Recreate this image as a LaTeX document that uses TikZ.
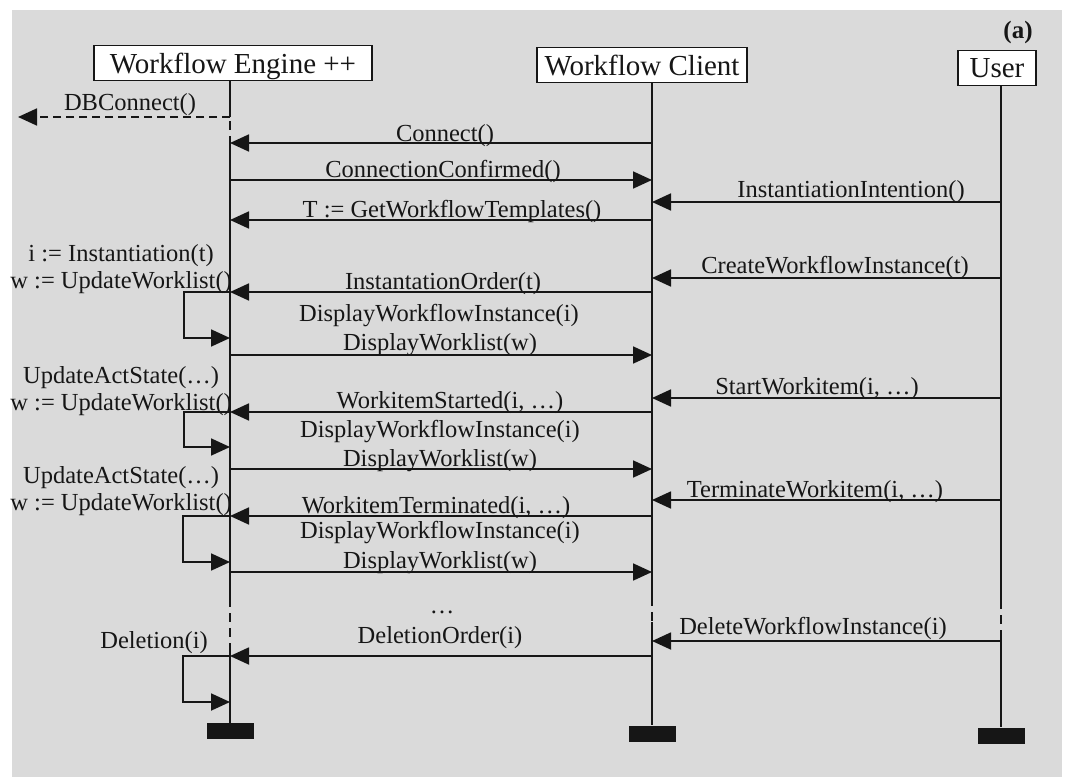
\documentclass[tikz,border=0pt]{standalone}
\usepackage{fontspec}
\setmainfont{Liberation Serif}
\usetikzlibrary{arrows.meta}
\definecolor{panel}{RGB}{218,218,218}
\definecolor{ink}{RGB}{22,22,22}

\begin{document}
\begin{tikzpicture}[x=1pt,y=-1pt,
  every node/.style={inner sep=0pt, text=ink},
  actor/.style={draw=ink, fill=white, line width=1.6pt, minimum height=35pt,
    text depth=0pt, font=\fontsize{29}{31}\selectfont},
  msglbl/.style={anchor=base, font=\fontsize{24.5}{27}\selectfont},
  sidelbl/.style={anchor=base east, align=center, font=\fontsize{24.5}{26.5}\selectfont},
  life/.style={draw=ink, line width=1.8pt},
  gap/.style={life, dash pattern=on 9pt off 6pt},
  msg/.style={draw=ink, line width=1.8pt, -{Triangle[length=19pt,width=17pt]}},
  asyncmsg/.style={msg, dash pattern=on 8pt off 5pt},
  stopbar/.style={fill=ink, minimum width=47pt, minimum height=16pt},
]
\useasboundingbox (0,0) rectangle (1065,779);
\fill[white] (0,0) rectangle (1065,779);
\fill[panel] (12,10) rectangle (1062,777);

% participants
\node[actor, minimum width=278pt] (eng) at (233,63) {Workflow Engine ++};
\node[actor, minimum width=210pt] (cli) at (642,65) {Workflow Client};
\node[actor, minimum width=78pt]  (usr) at (997,68) {User};
\node[anchor=base, font=\fontsize{25}{27}\selectfont\bfseries] (tag) at (1018,38) {(a)};

% end-of-life bars
\node[stopbar] (engEnd) at (230,731) {};
\node[stopbar] (cliEnd) at (652,733.5) {};
\node[stopbar] (usrEnd) at (1001,735.5) {};

% lifeline anchor points
\coordinate (eTop) at (230,80);
\coordinate (cTop) at (652,82.5);
\coordinate (uTop) at (1001,85.5);

% engine lifeline
\coordinate (eA) at (230,117);
\coordinate (eB) at (230,121);
\coordinate (eC) at (230,140);
\coordinate (eD) at (230,598);
\coordinate (eE) at (230,650);
\draw[life] (eTop) -- (eA);
\draw[gap] (eB) -- (eC);
\draw[life] (eC) -- (eD);
\draw[gap] (eD) -- (eE);
\draw[life] (eE) -- (engEnd.north);

% client lifeline
\coordinate (cD) at (652,597);
\coordinate (cE) at (652,622);
\draw[life] (cTop) -- (cD);
\draw[gap] (cD) -- (cE);
\draw[life] (cE) -- (cliEnd.north);

% user lifeline
\coordinate (uD) at (1001,600);
\coordinate (uE) at (1001,637);
\draw[life] (uTop) -- (uD);
\draw[gap] (uD) -- (uE);
\draw[life] (uE) -- (usrEnd.north);

% message end points
\coordinate (dbEnd) at (18,117);
\coordinate (e1) at (230,143);   \coordinate (c1) at (652,143);
\coordinate (e2) at (230,180);   \coordinate (c2) at (652,180);
\coordinate (c3) at (652,202);   \coordinate (u3) at (1001,202);
\coordinate (e4) at (230,220);   \coordinate (c4) at (652,220);
\coordinate (c5) at (652,278);   \coordinate (u5) at (1001,278);
\coordinate (e6) at (230,292);   \coordinate (c6) at (652,292);
\coordinate (e6b) at (230,338);
\coordinate (e7) at (230,355);   \coordinate (c7) at (652,355);
\coordinate (c8) at (652,398);   \coordinate (u8) at (1001,398);
\coordinate (e9) at (230,412);   \coordinate (c9) at (652,412);
\coordinate (e9b) at (230,447);
\coordinate (e10) at (230,469);  \coordinate (c10) at (652,469);
\coordinate (c11) at (652,500);  \coordinate (u11) at (1001,500);
\coordinate (e12) at (230,516);  \coordinate (c12) at (652,516);
\coordinate (e12b) at (230,562);
\coordinate (e13) at (230,572);  \coordinate (c13) at (652,572);
\coordinate (c14) at (652,641);  \coordinate (u14) at (1001,641);
\coordinate (e15) at (230,656);  \coordinate (c15) at (652,656);
\coordinate (e15b) at (230,702);

% messages
\draw[asyncmsg] (eA) -- (dbEnd);
\draw[msg] (c1) -- (e1);
\draw[msg] (e2) -- (c2);
\draw[msg] (u3) -- (c3);
\draw[msg] (c4) -- (e4);
\draw[msg] (u5) -- (c5);
\draw[msg] (c6) -- (e6);
\draw[msg] (e6) -- ++(-46,0) |- (e6b);
\draw[msg] (e7) -- (c7);
\draw[msg] (u8) -- (c8);
\draw[msg] (c9) -- (e9);
\draw[msg] (e9) -- ++(-46,0) |- (e9b);
\draw[msg] (e10) -- (c10);
\draw[msg] (u11) -- (c11);
\draw[msg] (c12) -- (e12);
\draw[msg] (e12) -- ++(-47,0) |- (e12b);
\draw[msg] (e13) -- (c13);
\draw[msg] (u14) -- (c14);
\draw[msg] (c15) -- (e15);
\draw[msg] (e15) -- ++(-47,0) |- (e15b);

% message labels
\node[msglbl] (lDb)   at (130,110) {DBConnect()};
\node[msglbl] (l1)    at (445,141) {Connect()};
\node[msglbl] (l2)    at (443,177) {ConnectionConfirmed()};
\node[msglbl] (l3)    at (851,197) {InstantiationIntention()};
\node[msglbl] (l4)    at (452,217) {T := GetWorkflowTemplates()};
\node[msglbl] (l5)    at (835,273) {CreateWorkflowInstance(t)};
\node[msglbl] (l6)    at (443,289) {InstantationOrder(t)};
\node[msglbl] (l7a)   at (439,321) {DisplayWorkflowInstance(i)};
\node[msglbl] (l7)    at (440,350) {DisplayWorklist(w)};
\node[msglbl] (l8)    at (817,394) {StartWorkitem(i, …)};
\node[msglbl] (l9)    at (450,408) {WorkitemStarted(i, …)};
\node[msglbl] (l10a)  at (440,437) {DisplayWorkflowInstance(i)};
\node[msglbl] (l10)   at (440,466) {DisplayWorklist(w)};
\node[msglbl] (l11)   at (815,497) {TerminateWorkitem(i, …)};
\node[msglbl] (l12)   at (436,513) {WorkitemTerminated(i, …)};
\node[msglbl] (l13a)  at (440,538) {DisplayWorkflowInstance(i)};
\node[msglbl] (l13)   at (440,568) {DisplayWorklist(w)};
\node[msglbl] (ldots) at (442,613) {…};
\node[msglbl] (l15)   at (440,643) {DeletionOrder(i)};
\node[msglbl] (l14)   at (813,634) {DeleteWorkflowInstance(i)};

% internal actions of the engine (anchored on the last line's baseline)
\node[sidelbl] (s1) at (232,288) {i := Instantiation(t)\\w := UpdateWorklist()};
\node[sidelbl] (s2) at (232,410) {UpdateActState(…)\\w := UpdateWorklist()};
\node[sidelbl] (s3) at (232,510) {UpdateActState(…)\\w := UpdateWorklist()};
\node[sidelbl] (s4) at (208,648) {Deletion(i)};
\end{tikzpicture}
\end{document}
